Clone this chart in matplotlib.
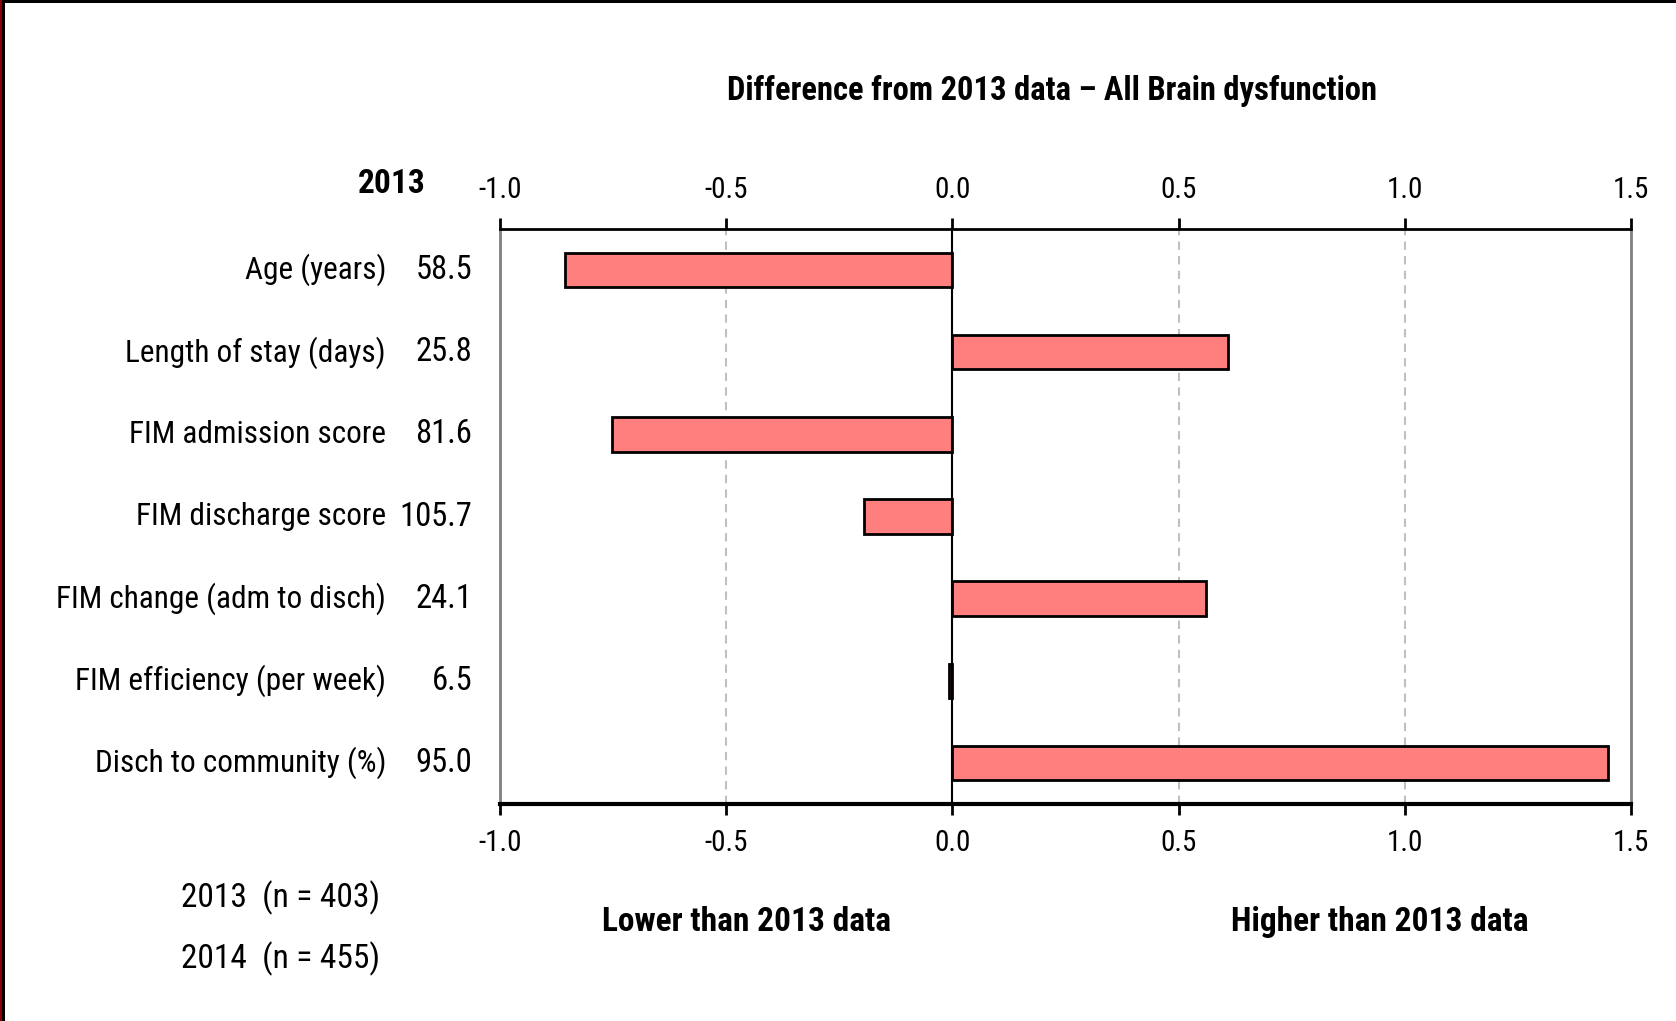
import matplotlib
matplotlib.use("Agg")
import matplotlib.pyplot as plt
from matplotlib import transforms
from matplotlib.patches import Rectangle

plt.rcParams['font.family'] = ['Roboto Condensed', 'DejaVu Sans']

categories = ["Age (years)", "Length of stay (days)", "FIM admission score",
              "FIM discharge score", "FIM change (adm to disch)",
              "FIM efficiency (per week)", "Disch to community (%)"]
values_2013 = ["58.5", "25.8", "81.6", "105.7", "24.1", "6.5", "95.0"]
differences = [-0.857, 0.61, -0.753, -0.196, 0.56, -0.008, 1.449]
ticks = [-1.0, -0.5, 0.0, 0.5, 1.0, 1.5]
tick_labels = ["-1.0", "-0.5", "0.0", "0.5", "1.0", "1.5"]
sample_lines = ["2013  (n = 403)", "2014  (n = 455)"]

W, H = 1676, 1021
fig = plt.figure(figsize=(W / 100, H / 100), dpi=100)
ax = fig.add_axes([500 / W, 1 - 804 / H, 1131 / W, 575 / H])

ypos = list(range(len(categories)))
ax.barh(ypos, differences, height=0.42, color="#FF7F7F", edgecolor="black",
        linewidth=2, zorder=3)

ax.set_xlim(-1.0, 1.5)
ax.set_ylim(6.5, -0.5)
ax.set_yticks([])
ax.set_xticks(ticks)
ax.set_xticklabels(tick_labels)
ax.tick_params(axis="x", which="both", direction="out", length=8, width=2,
               pad=10, labelsize=21, top=True, labeltop=True, colors="black")

for g in [-0.5, 0.5, 1.0]:
    ax.axvline(g, color="#C0C0C0", linestyle=(0, (4, 3)), linewidth=1.5, zorder=1)
ax.axvline(0.0, color="black", linewidth=1.5, zorder=4)

for side in ["left", "right"]:
    ax.spines[side].set_color("#808080")
    ax.spines[side].set_linewidth(2)
ax.spines["top"].set_linewidth(2)
ax.spines["bottom"].set_linewidth(3)

# row labels and 2013 values: x in figure fraction, y in data units
trans = transforms.blended_transform_factory(fig.transFigure, ax.transData)
for y, name, val in zip(ypos, categories, values_2013):
    ax.text(386 / W, y, name, transform=trans, ha="right", va="center", fontsize=22.5)
    ax.text(472 / W, y, val, transform=trans, ha="right", va="center", fontsize=23.5)

fig.text(426 / W, 1 - 184 / H, "2013", ha="right", va="center", fontsize=24,
         fontweight="bold")
fig.text(1052 / W, 1 - 91 / H, "Difference from 2013 data \u2013 All Brain dysfunction",
         ha="center", va="center", fontsize=23.5, fontweight="bold")
fig.text(746 / W, 1 - 922 / H, "Lower than 2013 data", ha="center", va="center",
         fontsize=24, fontweight="bold")
fig.text(1380 / W, 1 - 922 / H, "Higher than 2013 data", ha="center", va="center",
         fontsize=24, fontweight="bold")
fig.text(380 / W, 1 - 898 / H, sample_lines[0], ha="right", va="center", fontsize=24)
fig.text(380 / W, 1 - 959 / H, sample_lines[1], ha="right", va="center", fontsize=24)

# outer frame lines
fig.add_artist(Rectangle((0, 1 - 3 / H), 1, 3 / H, transform=fig.transFigure,
                         color="black", lw=0))
fig.add_artist(Rectangle((0, 0), 2 / W, 1, transform=fig.transFigure,
                         color="#8B0000", lw=0))
fig.add_artist(Rectangle((2 / W, 0), 3 / W, 1, transform=fig.transFigure,
                         color="black", lw=0))

fig.savefig("out.png", dpi=100)
